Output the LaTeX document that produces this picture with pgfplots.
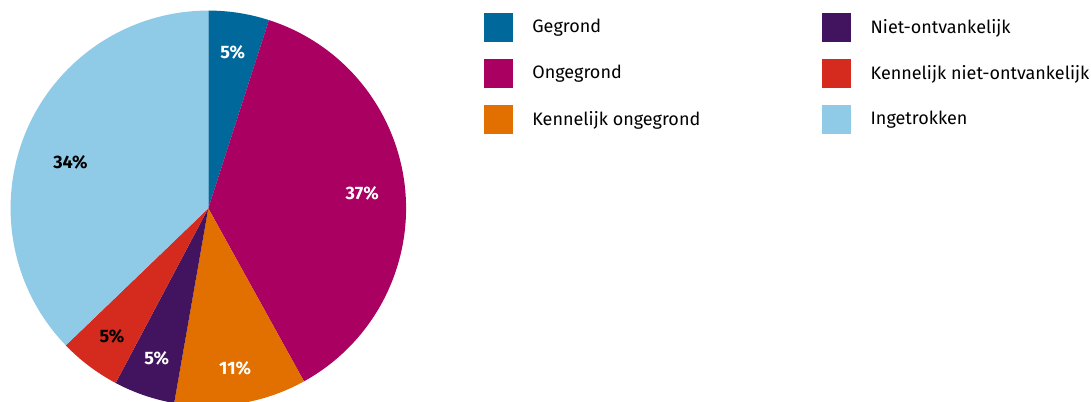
\documentclass[border=0pt]{standalone}
\usepackage{fontspec}
\setmainfont{Fira Sans}
\usepackage{pgfplots}
\usepackage{pgfplotstable}
\pgfplotsset{compat=1.18}
\definecolor{cGeg}{HTML}{01689B}
\definecolor{cOng}{HTML}{A90061}
\definecolor{cKo}{HTML}{E17000}
\definecolor{cNiet}{HTML}{42145F}
\definecolor{cKniet}{HTML}{D52B1E}
\definecolor{cIng}{HTML}{8FCAE7}
\colorlet{s0}{cGeg}\colorlet{s1}{cOng}\colorlet{s2}{cKo}
\colorlet{s3}{cNiet}\colorlet{s4}{cKniet}\colorlet{s5}{cIng}
\colorlet{t0}{white}\colorlet{t1}{white}\colorlet{t2}{white}
\colorlet{t3}{white}\colorlet{t4}{black}\colorlet{t5}{black}
% value = share of the circle, label = printed percentage,
% loff/lrad = label angle offset (deg) and distance from centre (pt)
\pgfplotstableread[col sep=comma]{
name,value,label,loff,lrad
Gegrond,4.96,5,0,118
Ongegrond,37.0,37,0,116
Kennelijk ongegrond,10.8,11,0,122
Niet-ontvankelijk,5.0,5,0,119
Kennelijk niet-ontvankelijk,5.05,5,0,120
Ingetrokken,37.19,34,4.6,109
}\piedata
\begin{document}
\def\cum{0}%
\pgfplotsforeachungrouped \i in {0,...,5}{%
  \pgfplotstablegetelem{\i}{value}\of\piedata
  \pgfmathsetmacro\aS{90-3.6*\cum}%
  \pgfmathsetmacro\cum{\cum+\pgfplotsretval}%
  \pgfmathsetmacro\aE{90-3.6*\cum}%
  \pgfplotstablegetelem{\i}{loff}\of\piedata
  \pgfmathsetmacro\aM{(\aS+\aE)/2+\pgfplotsretval}%
  \expandafter\xdef\csname aS\i\endcsname{\aS}%
  \expandafter\xdef\csname aE\i\endcsname{\aE}%
  \expandafter\xdef\csname aM\i\endcsname{\aM}%
  \pgfplotstablegetelem{\i}{lrad}\of\piedata
  \expandafter\xdef\csname lr\i\endcsname{\pgfplotsretval}%
  \pgfplotstablegetelem{\i}{label}\of\piedata
  \expandafter\xdef\csname lb\i\endcsname{\pgfplotsretval}%
}%
\begin{tikzpicture}
\begin{axis}[
  scale only axis, width=818.25pt, height=300.75pt,
  xmin=0, xmax=1091, ymin=0, ymax=401,
  hide axis, clip=true,
  legend image code/.code={\fill[#1] (0pt,-10.875pt) rectangle (21.75pt,10.875pt);},
  transpose legend, legend columns=3,
  legend style={at={(axis cs:484,388.5)}, anchor=north west, draw=none, fill=none,
    inner sep=0pt, outer sep=0pt, row sep=12.75pt, column sep=0pt,
    nodes={inner sep=0pt, font=\fontsize{13.5}{16}\selectfont},
    cells={anchor=west},
    /tikz/every odd column/.append style={column sep=14.5pt},
    /tikz/every even column/.append style={column sep=91.5pt}},
]
\pgfplotsinvokeforeach{0,...,5}{
  \fill[s#1] (axis cs:208.3,192.7) -- ++(\csname aS#1\endcsname:148.3pt)
    arc[start angle=\csname aS#1\endcsname, end angle=\csname aE#1\endcsname, radius=148.3pt] -- cycle;
}
\pgfplotsinvokeforeach{0,...,5}{
  \path (axis cs:208.3,192.7) ++(\csname aM#1\endcsname:\csname lr#1\endcsname pt)
    node[text=t#1, font=\bfseries\fontsize{13.5}{16}\selectfont] {\csname lb#1\endcsname\%};
}
\addlegendimage{fill=cGeg, draw=none}\addlegendentry{Gegrond}
\addlegendimage{fill=cOng, draw=none}\addlegendentry{Ongegrond}
\addlegendimage{fill=cKo, draw=none}\addlegendentry{Kennelijk ongegrond}
\addlegendimage{fill=cNiet, draw=none}\addlegendentry{Niet-ontvankelijk}
\addlegendimage{fill=cKniet, draw=none}\addlegendentry{Kennelijk niet-ontvankelijk}
\addlegendimage{fill=cIng, draw=none}\addlegendentry{Ingetrokken}
\end{axis}
\pgfresetboundingbox
\path (current axis.south west) rectangle (current axis.north east);
\end{tikzpicture}
\end{document}
